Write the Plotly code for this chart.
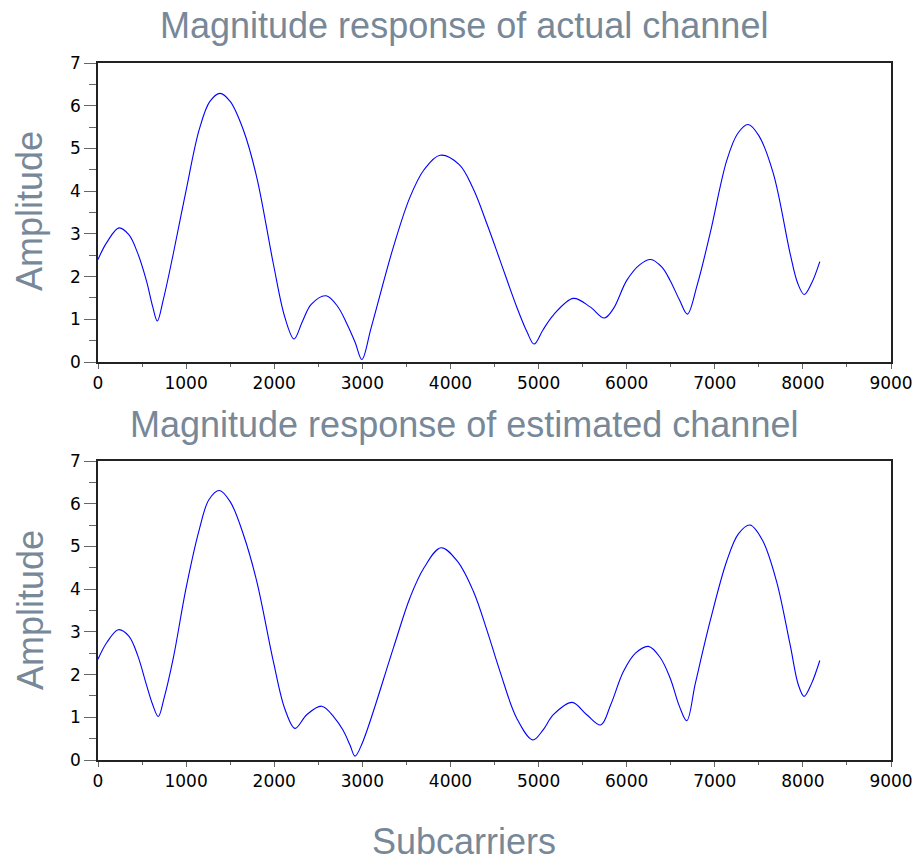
import plotly.graph_objects as go
from plotly.subplots import make_subplots

# Subcarrier index / magnitude samples for the actual channel
actual_x = [0, 100, 238, 350, 450, 550, 620, 673, 740, 855, 1000, 1150, 1270, 1385, 1500,
            1650, 1801, 1990, 2120, 2225, 2320, 2420, 2588, 2720, 2823, 2920, 2995, 3100,
            3352, 3541, 3700, 3882, 4100, 4260, 4420, 4563, 4750, 4870, 4949, 5050, 5168,
            5395, 5585, 5747, 5850, 6001, 6150, 6273, 6400, 6493, 6600, 6689, 6800, 6947,
            7136, 7260, 7378, 7500, 7665, 7855, 7940, 8014, 8100, 8192]
actual_y = [2.40, 2.80, 3.14, 2.98, 2.55, 1.90, 1.30, 0.96, 1.45, 2.54, 4.02, 5.45, 6.10, 6.29,
            6.10, 5.43, 4.33, 2.30, 1.05, 0.54, 0.95, 1.35, 1.55, 1.30, 0.90, 0.45, 0.06, 0.80,
            2.69, 3.86, 4.50, 4.84, 4.62, 4.05, 3.20, 2.38, 1.30, 0.70, 0.42, 0.75, 1.10,
            1.49, 1.29, 1.03, 1.25, 1.91, 2.28, 2.40, 2.22, 1.91, 1.45, 1.12, 1.80, 3.01,
            4.72, 5.35, 5.56, 5.30, 4.41, 2.54, 1.85, 1.58, 1.85, 2.35]

# Subcarrier index / magnitude samples for the estimated channel
est_x = [0, 100, 231, 350, 450, 550, 620, 684, 750, 855, 1000, 1150, 1260, 1377, 1500, 1650,
         1801, 1990, 2120, 2236, 2369, 2539, 2680, 2780, 2860, 2917, 3000, 3352, 3541, 3700,
         3893, 4080, 4260, 4420, 4563, 4752, 4934, 5050, 5168, 5380, 5547, 5706, 5820, 5963,
         6100, 6247, 6380, 6493, 6600, 6682, 6780, 6947, 7136, 7270, 7400, 7540, 7700, 7855,
         7950, 8014, 8100, 8192]
est_y = [2.36, 2.75, 3.05, 2.90, 2.45, 1.76, 1.30, 1.02, 1.45, 2.39, 4.03, 5.40, 6.10, 6.31,
         6.05, 5.28, 4.19, 2.31, 1.20, 0.74, 1.06, 1.26, 1.00, 0.70, 0.35, 0.09, 0.40, 2.62,
         3.80, 4.50, 4.97, 4.65, 3.95, 3.00, 2.07, 0.98, 0.47, 0.70, 1.06, 1.35, 1.06, 0.82,
         1.30, 2.07, 2.50, 2.66, 2.40, 1.92, 1.25, 0.92, 1.80, 3.25, 4.66, 5.30, 5.50, 5.15,
         4.19, 2.70, 1.75, 1.49, 1.80, 2.33]

titles = ["Magnitude response of actual channel", "Magnitude response of estimated channel"]
x_label = "Subcarriers"
y_label = "Amplitude"

W, H = 915, 863
label_color = "#778899"
title_font = dict(family="Liberation Sans, Arial, sans-serif", size=36, color=label_color)
tick_font = dict(family="DejaVu Sans, sans-serif", size=17, color="black")

fig = make_subplots(rows=2, cols=1)
for row, (xs, ys) in enumerate([(actual_x, actual_y), (est_x, est_y)], start=1):
    fig.add_trace(go.Scatter(x=xs, y=ys, mode="lines",
                             line=dict(color="#0000ff", width=1.1, shape="spline",
                                       smoothing=1.0)),
                  row=row, col=1)

# plot areas in pixels: left, right, top, bottom
x0, x1 = 98, 891
panels = [(63, 362), (461, 760)]

xaxis_common = dict(range=[0, 9000], dtick=1000, tick0=0, showgrid=False, zeroline=False,
                    showline=True, linecolor="#222222", linewidth=1.5, mirror=True,
                    ticks="outside", ticklen=5, tickcolor="#666666", tickwidth=1,
                    tickfont=tick_font, automargin=False,
                    minor=dict(ticks="outside", dtick=500, ticklen=3, tickcolor="#666666"))
yaxis_common = dict(range=[0, 7], dtick=1, tick0=0, showgrid=False, zeroline=False,
                    showline=True, linecolor="#222222", linewidth=1.5, mirror=True,
                    ticks="outside", ticklen=12, tickcolor="#666666", tickwidth=1,
                    tickfont=tick_font, automargin=False,
                    minor=dict(ticks="outside", dtick=0.5, ticklen=7, tickcolor="#666666"))

for i, (top, bot) in enumerate(panels, start=1):
    sfx = "" if i == 1 else str(i)
    fig.layout["xaxis" + sfx].update(domain=[x0 / W, x1 / W], **xaxis_common)
    fig.layout["yaxis" + sfx].update(domain=[1 - bot / H, 1 - top / H], **yaxis_common)

cx = 464 / W
annotations = [
    dict(text=titles[0], x=cx, y=1 - 25 / H),
    dict(text=titles[1], x=cx, y=1 - 424 / H),
    dict(text=x_label, x=cx, y=1 - 841 / H),
    dict(text=y_label, x=30 / W, y=1 - 211 / H, textangle=-90),
    dict(text=y_label, x=30 / W, y=1 - 610 / H, textangle=-90),
]
for a in annotations:
    a.update(xref="paper", yref="paper", showarrow=False, xanchor="center",
             yanchor="middle", font=title_font)

fig.update_layout(width=W, height=H, margin=dict(l=0, r=0, t=0, b=0, autoexpand=False),
                  paper_bgcolor="white", plot_bgcolor="white", showlegend=False,
                  annotations=annotations)

fig.write_html("out.html")
